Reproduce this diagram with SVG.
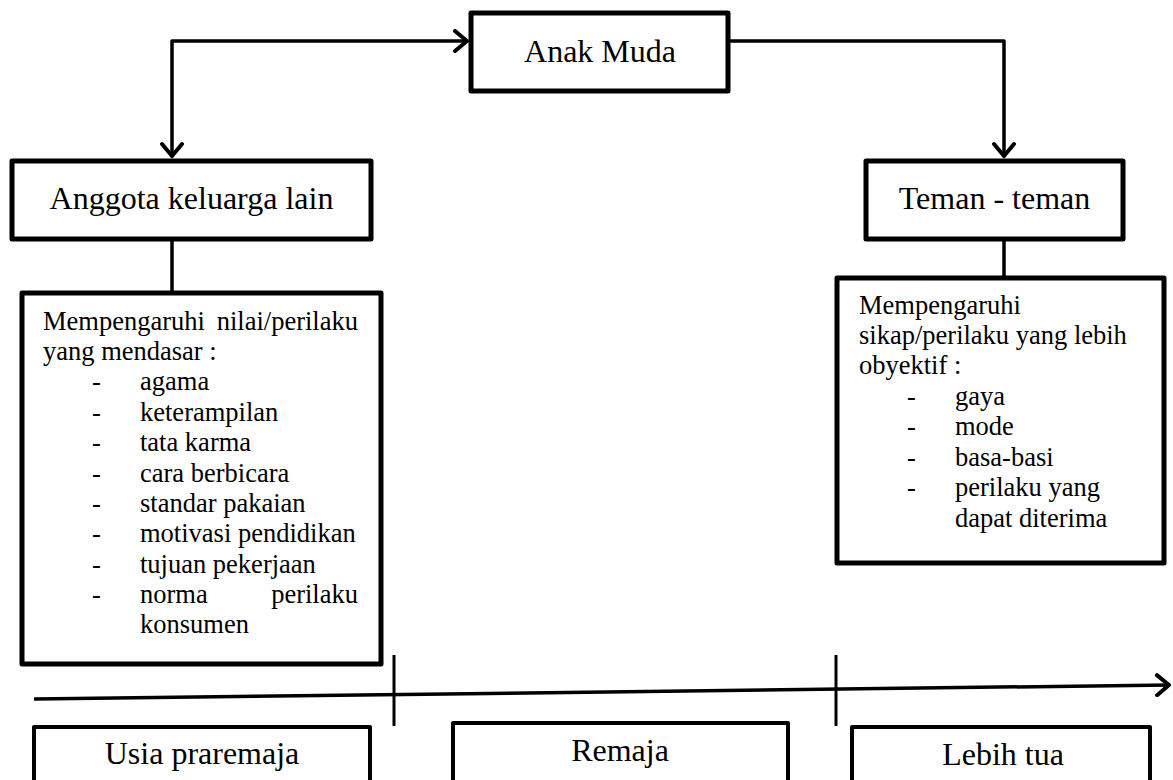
<svg xmlns="http://www.w3.org/2000/svg" width="1173" height="780" viewBox="0 0 1173 780">
  <style>
    .box { fill: #fff; stroke: #000; stroke-width: 5; stroke-linejoin: round; }
    .box-thin { fill: #fff; stroke: #000; stroke-width: 4; stroke-linejoin: round; }
    .title { font-family: "Liberation Serif", "Times New Roman", serif; font-size: 32px; fill: #000; text-anchor: middle; }
    .body { font-family: "Liberation Serif", "Times New Roman", serif; font-size: 26.5px; fill: #000; }
    .conn { fill: none; stroke: #000; stroke-width: 3.5; stroke-linejoin: round; }
    .tick { stroke: #000; stroke-width: 3; }
  </style>
  <defs>
    <marker id="arrow" markerUnits="userSpaceOnUse" viewBox="-16 -12 20 24" markerWidth="20" markerHeight="24" refX="0" refY="0" orient="auto-start-reverse">
      <path d="M-13,-10 L-1,0 L-13,10" fill="none" stroke="#000" stroke-width="4" stroke-linecap="round" stroke-linejoin="round"/>
    </marker>
  </defs>
  <rect width="1173" height="780" fill="#fff"/>

  <!-- connectors -->
  <g id="connectors">
    <path class="conn" d="M172,157 V41 H468" marker-start="url(#arrow)" marker-end="url(#arrow)"/>
    <path class="conn" d="M728,41 H1004 V157" marker-end="url(#arrow)"/>
    <line class="conn" x1="172" y1="240" x2="172" y2="293"/>
    <line class="conn" x1="1004" y1="240" x2="1004" y2="278"/>
    <line class="conn" x1="34" y1="699" x2="1170" y2="685" stroke-width="4" marker-end="url(#arrow)"/>
    <line class="tick" x1="394" y1="655" x2="394" y2="726"/>
    <line class="tick" x1="836" y1="655" x2="836" y2="726"/>
  </g>

  <!-- top node -->
  <g id="anak-muda">
    <rect class="box" x="471" y="13" width="257" height="78"/>
    <text class="title" x="600" y="62">Anak Muda</text>
  </g>

  <g id="anggota-keluarga">
    <rect class="box" x="12" y="161" width="359" height="78"/>
    <text class="title" x="191.5" y="209">Anggota keluarga lain</text>
  </g>

  <g id="teman">
    <rect class="box" x="866" y="161" width="257" height="78"/>
    <text class="title" x="994.5" y="209">Teman - teman</text>
  </g>

  <!-- influence of family -->
  <g id="pengaruh-keluarga">
    <rect class="box" x="22" y="293" width="359" height="371"/>
    <g class="body">
      <text x="43" y="330">Mempengaruhi</text>
      <text x="358" y="330" text-anchor="end">nilai/perilaku</text>
      <text x="43" y="360">yang mendasar :</text>
      <text x="92" y="390">-</text><text x="140" y="390">agama</text>
      <text x="92" y="421">-</text><text x="140" y="421">keterampilan</text>
      <text x="92" y="451">-</text><text x="140" y="451">tata karma</text>
      <text x="92" y="482">-</text><text x="140" y="482">cara berbicara</text>
      <text x="92" y="512">-</text><text x="140" y="512">standar pakaian</text>
      <text x="92" y="542">-</text><text x="140" y="542">motivasi pendidikan</text>
      <text x="92" y="573">-</text><text x="140" y="573">tujuan pekerjaan</text>
      <text x="92" y="603">-</text><text x="140" y="603">norma</text>
      <text x="358" y="603" text-anchor="end">perilaku</text>
      <text x="140" y="633">konsumen</text>
    </g>
  </g>

  <!-- influence of friends -->
  <g id="pengaruh-teman">
    <rect class="box" x="837" y="278" width="327" height="285"/>
    <g class="body">
      <text x="859" y="314">Mempengaruhi</text>
      <text x="859" y="344">sikap/perilaku yang lebih</text>
      <text x="859" y="374">obyektif :</text>
      <text x="907" y="405">-</text><text x="955" y="405">gaya</text>
      <text x="907" y="435">-</text><text x="955" y="435">mode</text>
      <text x="907" y="466">-</text><text x="955" y="466">basa-basi</text>
      <text x="907" y="496">-</text><text x="955" y="496">perilaku yang</text>
      <text x="955" y="527">dapat diterima</text>
    </g>
  </g>

  <!-- age stages -->
  <g id="usia-praremaja">
    <rect class="box-thin" x="34" y="727" width="336" height="80"/>
    <text class="title" x="202" y="764">Usia praremaja</text>
  </g>
  <g id="remaja">
    <rect class="box-thin" x="453" y="723" width="335" height="80"/>
    <text class="title" x="620" y="761">Remaja</text>
  </g>
  <g id="lebih-tua">
    <rect class="box-thin" x="852" y="727" width="298" height="80"/>
    <text class="title" x="1003" y="765">Lebih tua</text>
  </g>
</svg>
